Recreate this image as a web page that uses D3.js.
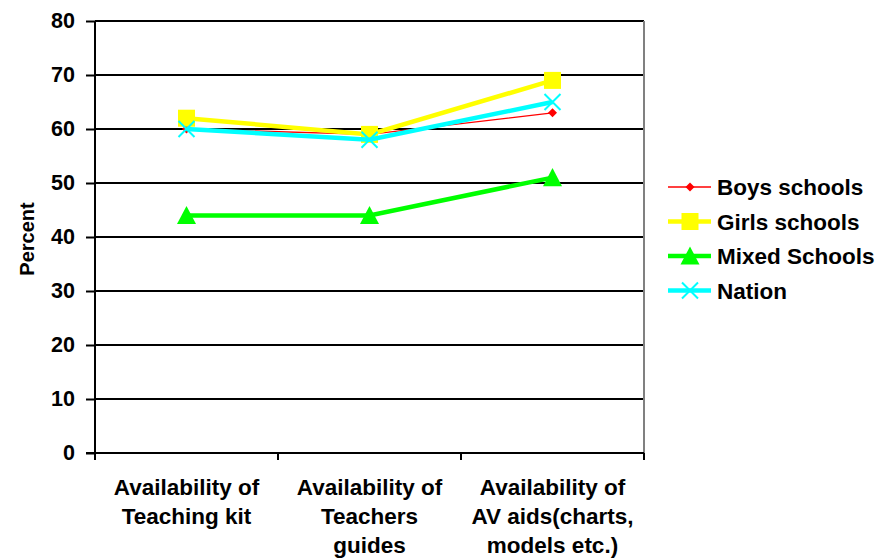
<!DOCTYPE html>
<html>
<head>
<meta charset="utf-8">
<script src="https://cdn.jsdelivr.net/npm/d3@7"></script>
<style>
  html, body { margin: 0; padding: 0; background: #fff; }
  svg { display: block; font-family: "Liberation Sans", Arial, sans-serif; font-weight: bold; }
</style>
</head>
<body>
<svg id="chart" width="880" height="560"></svg>
<script>
// Categories (x axis), one label line per entry
const categories = [
  ["Availability of", "Teaching kit"],
  ["Availability of", "Teachers", "guides"],
  ["Availability of", "AV aids(charts,", "models etc.)"]
];
const seriesNames = ["Boys schools", "Girls schools", "Mixed Schools", "Nation"];
const boysValues = [60, 59, 63];
const girlsValues = [62, 59, 69];
const mixedValues = [44, 44, 51];
const nationValues = [60, 58, 65];
const yTicks = [0, 10, 20, 30, 40, 50, 60, 70, 80];

const series = [
  { name: seriesNames[0], values: boysValues, color: "#ff0000", width: 1.3, marker: "diamond", size: 9 },
  { name: seriesNames[1], values: girlsValues, color: "#ffff00", width: 4.5, marker: "square", size: 17 },
  { name: seriesNames[2], values: mixedValues, color: "#00ff00", width: 4.5, marker: "triangle", size: 19 },
  { name: seriesNames[3], values: nationValues, color: "#00ffff", width: 4.5, marker: "cross", size: 16 }
];

const svg = d3.select("#chart");
const plot = { left: 95, right: 644, top: 21, bottom: 453 };
const fontSize = 22.5;

const x = d3.scaleBand().domain(d3.range(categories.length)).range([plot.left, plot.right]).padding(0);
const y = d3.scaleLinear().domain([0, 80]).range([plot.bottom, plot.top]);
const cx = i => x(i) + x.bandwidth() / 2;

// Horizontal gridlines
svg.append("g").selectAll("line").data(yTicks.filter(t => t > 0)).join("line")
  .attr("x1", plot.left).attr("x2", plot.right)
  .attr("y1", d => y(d)).attr("y2", d => y(d))
  .attr("stroke", "#000").attr("stroke-width", 2);

// Right border of plot area
svg.append("line")
  .attr("x1", plot.right).attr("x2", plot.right)
  .attr("y1", plot.top).attr("y2", plot.bottom)
  .attr("stroke", "#808080").attr("stroke-width", 2);

// Y axis
const yAxis = d3.axisLeft(y).tickValues(yTicks).tickSize(9).tickPadding(11);
const gy = svg.append("g").attr("transform", `translate(${plot.left},0)`).call(yAxis);
gy.select(".domain").attr("stroke", "#000").attr("stroke-width", 2).attr("d", `M0,${plot.top}V${plot.bottom}`);
gy.selectAll(".tick line").attr("stroke", "#000").attr("stroke-width", 2);
gy.selectAll(".tick text").attr("font-size", 21.5).attr("font-weight", "bold")
  .attr("font-family", "'Liberation Sans', Arial, sans-serif").attr("fill", "#000");

// X axis: boundary ticks between categories
const xBounds = d3.range(categories.length + 1).map(i => plot.left + i * x.bandwidth());
svg.append("line").attr("x1", plot.left - 9).attr("x2", plot.right)
  .attr("y1", plot.bottom).attr("y2", plot.bottom).attr("stroke", "#000").attr("stroke-width", 2);
svg.append("g").selectAll("line").data(xBounds).join("line")
  .attr("x1", d => d).attr("x2", d => d)
  .attr("y1", plot.bottom).attr("y2", plot.bottom + 7)
  .attr("stroke", "#000").attr("stroke-width", 2);

// Category labels
const xl = svg.append("g").selectAll("text").data(categories).join("text")
  .attr("x", (d, i) => cx(i)).attr("y", 495)
  .attr("text-anchor", "middle").attr("font-size", fontSize).attr("fill", "#000");
xl.selectAll("tspan").data(d => d).join("tspan")
  .attr("x", function () { return d3.select(this.parentNode).attr("x"); })
  .attr("dy", (d, i) => i === 0 ? 0 : 29)
  .text(d => d);

// Y axis title
svg.append("text").attr("transform", "translate(34,239) rotate(-90)")
  .attr("text-anchor", "middle").attr("font-size", 20).attr("fill", "#000").text("Percent");

// Marker drawing
function drawMarker(g, s, px, py) {
  const h = s.size / 2;
  if (s.marker === "diamond") {
    g.append("path").attr("d", `M${px},${py - h}L${px + h},${py}L${px},${py + h}L${px - h},${py}Z`).attr("fill", s.color);
  } else if (s.marker === "square") {
    g.append("rect").attr("x", px - h).attr("y", py - h).attr("width", s.size).attr("height", s.size).attr("fill", s.color);
  } else if (s.marker === "triangle") {
    g.append("path").attr("d", `M${px},${py - h}L${px + h},${py + h * 0.9}L${px - h},${py + h * 0.9}Z`).attr("fill", s.color);
  } else if (s.marker === "cross") {
    g.append("path").attr("d", `M${px - h},${py - h}L${px + h},${py + h}M${px - h},${py + h}L${px + h},${py - h}`)
      .attr("stroke", s.color).attr("stroke-width", 2).attr("fill", "none");
  }
}

const line = d3.line().x((d, i) => cx(i)).y(d => y(d));
const lines = svg.append("g");
series.forEach(s => {
  lines.append("path").datum(s.values).attr("d", line)
    .attr("fill", "none").attr("stroke", s.color).attr("stroke-width", s.width);
  const mg = lines.append("g");
  s.values.forEach((v, i) => drawMarker(mg, s, cx(i), y(v)));
});

// Legend
const legend = svg.append("g");
series.forEach((s, i) => {
  const ly = 187 + i * 34.5;
  const g = legend.append("g");
  g.append("line").attr("x1", 668).attr("x2", 711).attr("y1", ly).attr("y2", ly)
    .attr("stroke", s.color).attr("stroke-width", s.width);
  drawMarker(g, s, 690, ly);
  g.append("text").attr("x", 717).attr("y", ly + 8).attr("font-size", fontSize).attr("fill", "#000").text(s.name);
});
</script>
</body>
</html>
